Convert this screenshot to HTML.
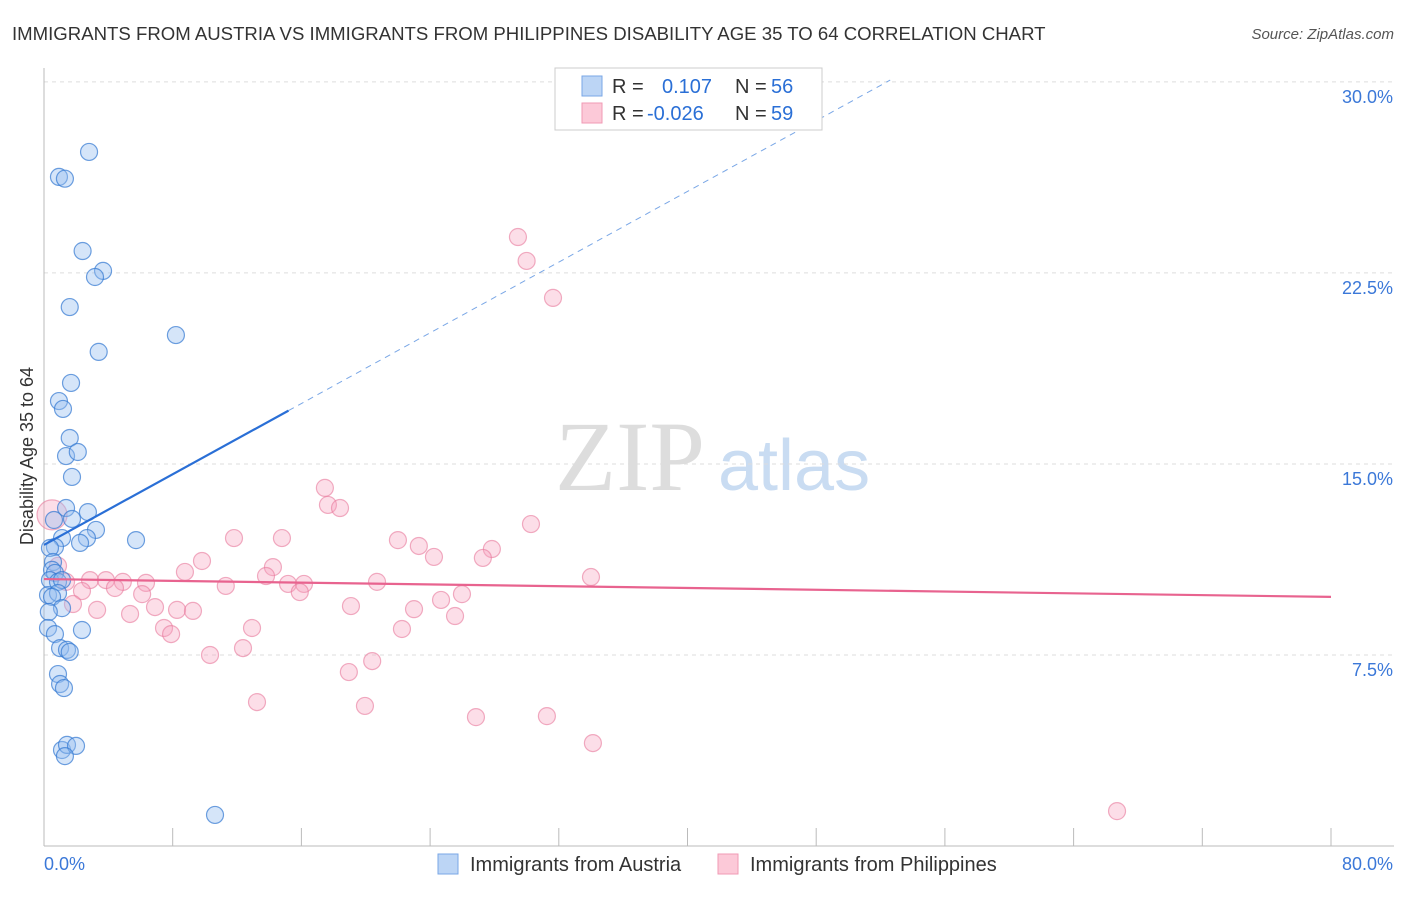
<!DOCTYPE html>
<html><head><meta charset="utf-8"><style>
body{margin:0;background:#fff;font-family:"Liberation Sans",sans-serif;}
</style></head><body>
<svg width="1406" height="892" xmlns="http://www.w3.org/2000/svg" id="svg" style="font-family:'Liberation Sans',sans-serif">
<text x="12" y="40" font-size="18.6" fill="#333">IMMIGRANTS FROM AUSTRIA VS IMMIGRANTS FROM PHILIPPINES DISABILITY AGE 35 TO 64 CORRELATION CHART</text>
<text x="1394" y="39" font-size="15" fill="#555" font-style="italic" text-anchor="end">Source: ZipAtlas.com</text>
<text x="555" y="490" font-size="100" fill="#ddd" font-family="Liberation Serif,serif">ZIP</text>
<text x="718" y="490" font-size="72" fill="#c9dcf2">atlas</text>
<text transform="translate(33,456) rotate(-90)" font-size="18" fill="#333" text-anchor="middle">Disability Age 35 to 64</text>
<g id="grid"></g><g id="pts"></g><g id="lines"></g>
<rect x="555" y="68" width="267" height="62" fill="#fff" stroke="#ccc"/>
<rect x="582" y="76" width="20" height="20" fill="#bcd5f5" stroke="#7aa7e6"/>
<rect x="582" y="103" width="20" height="20" fill="#fcc9d8" stroke="#f09ab4"/>
<text font-size="20" fill="#333"><tspan x="612" y="93">R = </tspan><tspan x="662" fill="#2a6fd6">0.107</tspan><tspan x="735">N = </tspan><tspan x="771" fill="#2a6fd6">56</tspan></text>
<text font-size="20" fill="#333"><tspan x="612" y="120">R = </tspan><tspan x="647" fill="#2a6fd6">-0.026</tspan><tspan x="735">N = </tspan><tspan x="771" fill="#2a6fd6">59</tspan></text>
<text x="44" y="870" font-size="18" fill="#3b78d8">0.0%</text>
<text x="1393" y="870" font-size="18" fill="#3b78d8" text-anchor="end">80.0%</text>
<rect x="438" y="854" width="20" height="20" fill="#bcd5f5" stroke="#7aa7e6"/>
<text x="470" y="871" font-size="20" fill="#333">Immigrants from Austria</text>
<rect x="718" y="854" width="20" height="20" fill="#fcc9d8" stroke="#f09ab4"/>
<text x="750" y="871" font-size="20" fill="#333">Immigrants from Philippines</text>
</svg>
<script>
const yTicks=[7.5,15,22.5,30];
const yTickLabels=["7.5%","15.0%","22.5%","30.0%"];
const austriaX=[2.8,0.93,1.3,2.4,3.67,3.17,1.6,8.2,3.4,1.68,0.93,1.18,1.6,1.37,2.1,1.74,1.37,1.74,2.73,0.62,3.23,1.12,2.67,2.24,5.72,0.68,0.37,0.56,0.5,0.68,0.37,0.87,1.12,0.25,0.87,0.5,1.12,0.3,0.25,0.68,2.36,1.0,1.43,1.6,0.87,1.0,1.24,1.12,1.43,1.99,1.3,10.63];
const austriaY=[27.25,26.27,26.2,23.36,22.58,22.34,21.16,20.06,19.4,18.18,17.47,17.16,16.02,15.31,15.47,14.49,13.27,12.84,13.11,12.8,12.41,12.09,12.09,11.9,12.01,11.74,11.7,11.15,10.84,10.72,10.44,10.37,10.44,9.85,9.93,9.78,9.34,9.19,8.56,8.32,8.48,7.77,7.7,7.62,6.75,6.36,6.2,3.77,3.97,3.93,3.53,1.22];
const philX=[29.46,30.0,31.64,17.46,17.65,18.4,30.27,11.81,14.79,22.0,23.3,27.84,24.24,27.28,9.82,14.23,8.76,13.8,34.0,2.86,3.85,4.9,6.34,1.37,11.3,15.17,16.16,20.7,2.36,4.41,6.1,15.9,25.98,24.68,1.8,3.3,6.9,8.27,9.26,19.08,23.0,5.35,25.55,7.46,7.9,12.93,22.25,10.32,12.37,20.4,18.95,13.24,19.95,26.85,31.26,34.12,66.7,0.5,0.87];
const philY=[23.91,22.97,21.52,14.06,13.39,13.27,12.64,12.09,12.09,12.01,11.78,11.66,11.35,11.31,11.19,10.95,10.76,10.6,10.56,10.44,10.44,10.37,10.33,10.37,10.21,10.29,10.29,10.37,10.01,10.13,9.89,9.97,9.89,9.66,9.5,9.27,9.38,9.27,9.23,9.42,9.3,9.11,9.03,8.56,8.32,8.56,8.52,7.5,7.77,7.26,6.83,5.65,5.5,5.06,5.1,4.04,1.37,13.0,11.0];
const blueTrend=[11.82,0.347];
const pinkTrend=[10.48,-0.00875];
const X=v=>44+v/80*1287, Y=v=>846-v*25.47;
const NS="http://www.w3.org/2000/svg";
function mk(t,a,p){const e=document.createElementNS(NS,t);for(const k in a)e.setAttribute(k,a[k]);document.getElementById(p).appendChild(e);return e;}
yTicks.forEach((t,i)=>{
 const l=mk('line',{x1:44,x2:1394,y1:Y(t),y2:Y(t),stroke:'#ddd','stroke-dasharray':'4,4'},'grid');
 
 
 const tx=mk('text',{x:1393,y:Y(t)+21,'font-size':18,fill:'#3b78d8','text-anchor':'end'},'grid');
 tx.textContent=yTickLabels[i];
 
 
});
const ax=mk('line',{x1:44,x2:44,y1:68,y2:846,stroke:'#bbb'},'grid');


const bx=mk('line',{x1:44,x2:1394,y1:846,y2:846,stroke:'#bbb'},'grid');


for(let i=0;i<=10;i++){const t=mk('line',{x1:X(i*8),x2:X(i*8),y1:828,y2:846,stroke:'#bbb'},'grid');
 
 }
philX.forEach((x,i)=>{const c=mk('circle',{cx:X(x),cy:Y(philY[i]),r:i==57?15:8.5,fill:'rgba(247,160,188,0.35)',stroke:'rgba(232,120,155,0.6)','stroke-width':1.2},'pts');
 
 });
austriaX.forEach((x,i)=>{const c=mk('circle',{cx:X(x),cy:Y(austriaY[i]),r:8.5,fill:'rgba(150,190,240,0.4)',stroke:'rgba(50,120,210,0.7)','stroke-width':1.2},'pts');
 
 });
const b1=mk('line',{x1:X(0),y1:Y(blueTrend[0]),x2:X(15.2),y2:Y(blueTrend[0]+blueTrend[1]*15.2),stroke:'#2a6fd6','stroke-width':2.2},'lines');


const b2=mk('line',{x1:X(15.2),y1:Y(blueTrend[0]+blueTrend[1]*15.2),x2:X(52.6),y2:Y(blueTrend[0]+blueTrend[1]*52.6),stroke:'#7aa7e6','stroke-width':1,'stroke-dasharray':'6,5'},'lines');


const p1=mk('line',{x1:X(0),y1:Y(pinkTrend[0]),x2:X(80),y2:Y(pinkTrend[0]+pinkTrend[1]*80),stroke:'#e8638f','stroke-width':2.2},'lines');


</script>
</body></html>
